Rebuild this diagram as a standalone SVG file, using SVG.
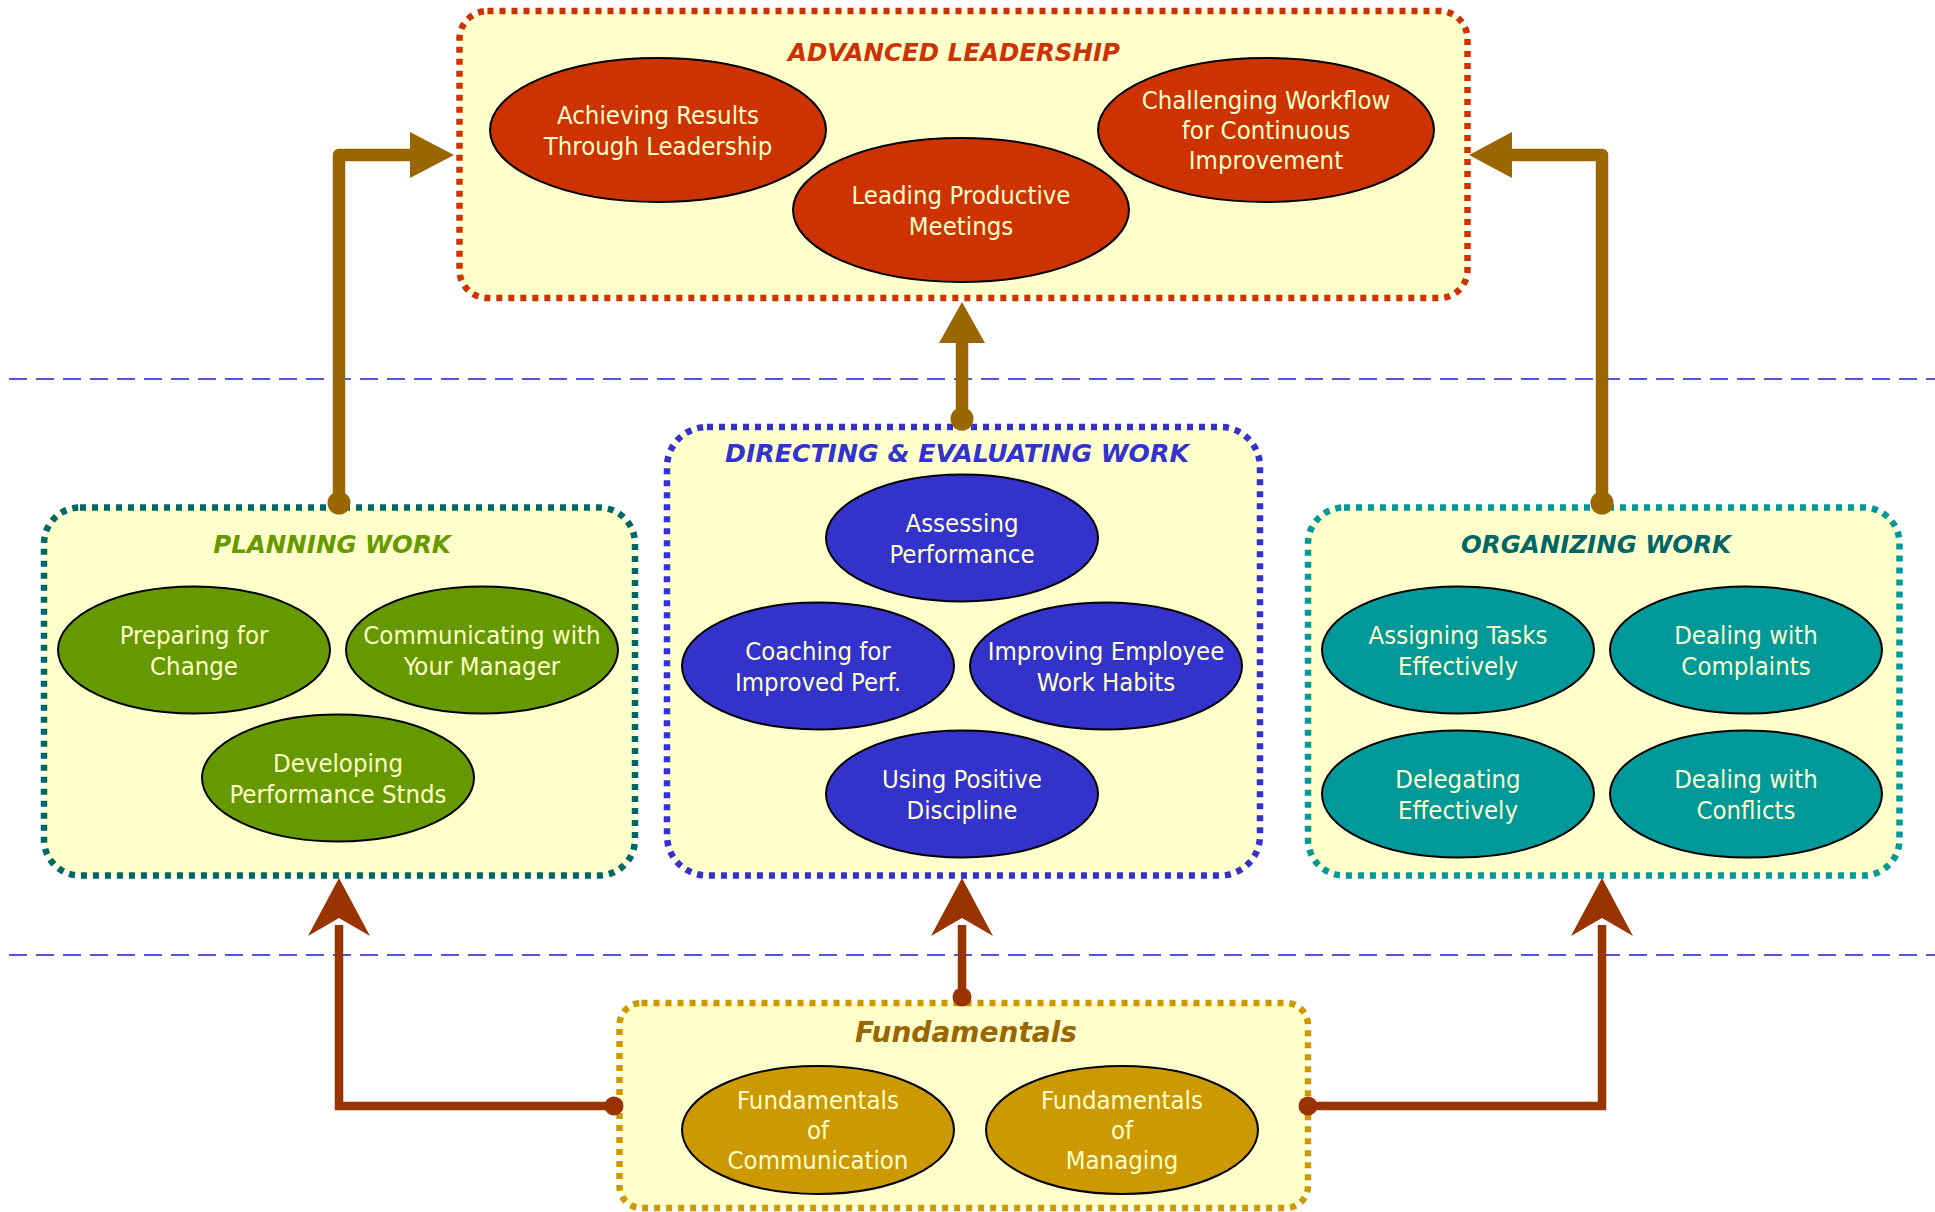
<svg xmlns="http://www.w3.org/2000/svg" width="1935" height="1212" viewBox="0 0 1935 1212">
  <style>
    .sep { stroke:#5555DD; stroke-width:2; stroke-dasharray:18 9; fill:none; }
    .box { fill:#FFFFCC; stroke-width:6.5; stroke-dasharray:6 6; }
    .ell { stroke:#000; stroke-width:2; }
    .lbl { font-family:"DejaVu Sans Condensed","DejaVu Sans",sans-serif; font-size:25.5px; fill:#FFFFCC; text-anchor:middle; }
    .ttl { font-family:"DejaVu Sans","Liberation Sans",sans-serif; font-weight:bold; font-style:italic; font-size:24.5px; text-anchor:middle; }
    .up { fill:none; stroke:#996600; stroke-width:12.5; stroke-linejoin:round; }
    .upDot, .upHead { fill:#996600; }
    .base { fill:none; stroke:#993300; stroke-width:8.5; stroke-linejoin:miter; }
    .baseDot, .baseHead { fill:#993300; }
  </style>

  <!-- level separators -->
  <g id="separators">
    <line class="sep" x1="9" y1="379" x2="1935" y2="379"/>
    <line class="sep" x1="9" y1="955" x2="1935" y2="955"/>
  </g>

  <!-- ADVANCED LEADERSHIP -->
  <g id="advanced-leadership">
    <rect class="box" x="459.5" y="11" width="1008" height="287" rx="28" stroke="#CC3300"/>
    <text class="ttl" x="954" y="61" fill="#CC3300">ADVANCED LEADERSHIP</text>
    <g id="achieving-results">
      <ellipse class="ell" cx="658" cy="130" rx="168" ry="72" fill="#CC3300"/>
      <text class="lbl" x="658" y="124">Achieving Results</text>
      <text class="lbl" x="658" y="155">Through Leadership</text>
    </g>
    <g id="challenging-workflow">
      <ellipse class="ell" cx="1266" cy="130" rx="168" ry="72" fill="#CC3300"/>
      <text class="lbl" x="1266" y="109">Challenging Workflow</text>
      <text class="lbl" x="1266" y="139">for Continuous</text>
      <text class="lbl" x="1266" y="169">Improvement</text>
    </g>
    <g id="leading-meetings">
      <ellipse class="ell" cx="961" cy="210" rx="168" ry="72" fill="#CC3300"/>
      <text class="lbl" x="961" y="204">Leading Productive</text>
      <text class="lbl" x="961" y="235">Meetings</text>
    </g>
  </g>

  <!-- PLANNING WORK -->
  <g id="planning-work">
    <rect class="box" x="44" y="507.5" width="591" height="368" rx="36" stroke="#006666"/>
    <text class="ttl" x="332" y="553" fill="#669900">PLANNING WORK</text>
    <g id="preparing-change">
      <ellipse class="ell" cx="194" cy="650" rx="136" ry="63.5" fill="#669900"/>
      <text class="lbl" x="194" y="644">Preparing for</text>
      <text class="lbl" x="194" y="675">Change</text>
    </g>
    <g id="communicating-manager">
      <ellipse class="ell" cx="482" cy="650" rx="136" ry="63.5" fill="#669900"/>
      <text class="lbl" x="482" y="644">Communicating with</text>
      <text class="lbl" x="482" y="675">Your Manager</text>
    </g>
    <g id="developing-standards">
      <ellipse class="ell" cx="338" cy="778" rx="136" ry="63.5" fill="#669900"/>
      <text class="lbl" x="338" y="772">Developing</text>
      <text class="lbl" x="338" y="803">Performance Stnds</text>
    </g>
  </g>

  <!-- DIRECTING & EVALUATING WORK -->
  <g id="directing-evaluating">
    <rect class="box" x="667" y="427" width="593" height="448.5" rx="40" stroke="#3333CC"/>
    <text class="ttl" x="957" y="462" fill="#3333CC" style="font-size:25.2px">DIRECTING &amp; EVALUATING WORK</text>
    <g id="assessing-performance">
      <ellipse class="ell" cx="962" cy="538" rx="136" ry="63.5" fill="#3333CC"/>
      <text class="lbl" x="962" y="532">Assessing</text>
      <text class="lbl" x="962" y="563">Performance</text>
    </g>
    <g id="coaching">
      <ellipse class="ell" cx="818" cy="666" rx="136" ry="63.5" fill="#3333CC"/>
      <text class="lbl" x="818" y="660">Coaching for</text>
      <text class="lbl" x="818" y="691">Improved Perf.</text>
    </g>
    <g id="improving-habits">
      <ellipse class="ell" cx="1106" cy="666" rx="136" ry="63.5" fill="#3333CC"/>
      <text class="lbl" x="1106" y="660">Improving Employee</text>
      <text class="lbl" x="1106" y="691">Work Habits</text>
    </g>
    <g id="positive-discipline">
      <ellipse class="ell" cx="962" cy="794" rx="136" ry="63.5" fill="#3333CC"/>
      <text class="lbl" x="962" y="788">Using Positive</text>
      <text class="lbl" x="962" y="819">Discipline</text>
    </g>
  </g>

  <!-- ORGANIZING WORK -->
  <g id="organizing-work">
    <rect class="box" x="1308" y="507.5" width="591.5" height="368" rx="36" stroke="#009999"/>
    <text class="ttl" x="1596" y="553" fill="#006666">ORGANIZING WORK</text>
    <g id="assigning-tasks">
      <ellipse class="ell" cx="1458" cy="650" rx="136" ry="63.5" fill="#009999"/>
      <text class="lbl" x="1458" y="644">Assigning Tasks</text>
      <text class="lbl" x="1458" y="675">Effectively</text>
    </g>
    <g id="dealing-complaints">
      <ellipse class="ell" cx="1746" cy="650" rx="136" ry="63.5" fill="#009999"/>
      <text class="lbl" x="1746" y="644">Dealing with</text>
      <text class="lbl" x="1746" y="675">Complaints</text>
    </g>
    <g id="delegating">
      <ellipse class="ell" cx="1458" cy="794" rx="136" ry="63.5" fill="#009999"/>
      <text class="lbl" x="1458" y="788">Delegating</text>
      <text class="lbl" x="1458" y="819">Effectively</text>
    </g>
    <g id="dealing-conflicts">
      <ellipse class="ell" cx="1746" cy="794" rx="136" ry="63.5" fill="#009999"/>
      <text class="lbl" x="1746" y="788">Dealing with</text>
      <text class="lbl" x="1746" y="819">Conflicts</text>
    </g>
  </g>

  <!-- Fundamentals -->
  <g id="fundamentals">
    <rect class="box" x="619.5" y="1003" width="688.5" height="205" rx="22" stroke="#CC9900"/>
    <text class="ttl" x="966" y="1042" fill="#996600" style="font-size:28px">Fundamentals</text>
    <g id="fundamentals-communication">
      <ellipse class="ell" cx="818" cy="1130" rx="136" ry="64" fill="#CC9900"/>
      <text class="lbl" x="818" y="1109">Fundamentals</text>
      <text class="lbl" x="818" y="1139">of</text>
      <text class="lbl" x="818" y="1169">Communication</text>
    </g>
    <g id="fundamentals-managing">
      <ellipse class="ell" cx="1122" cy="1130" rx="136" ry="64" fill="#CC9900"/>
      <text class="lbl" x="1122" y="1109">Fundamentals</text>
      <text class="lbl" x="1122" y="1139">of</text>
      <text class="lbl" x="1122" y="1169">Managing</text>
    </g>
  </g>

  <!-- connectors -->
  <g id="connectors">
    <!-- upper level: into ADVANCED LEADERSHIP -->
    <path class="up" d="M339,503 V155 H412"/>
    <polygon class="upHead" points="454,155 410,132 410,178"/>
    <circle class="upDot" cx="339" cy="503" r="11.5"/>

    <path class="up" d="M962,419 V340"/>
    <polygon class="upHead" points="962,302 939,343 985,343"/>
    <circle class="upDot" cx="962" cy="419" r="11.5"/>

    <path class="up" d="M1602,503 V155 H1510"/>
    <polygon class="upHead" points="1469,155 1512,132 1512,178"/>
    <circle class="upDot" cx="1602" cy="503" r="11.5"/>

    <!-- lower level: out of Fundamentals -->
    <path class="base" d="M614,1106 H339 V925"/>
    <polygon class="baseHead" points="339,878 370,936 339,918 308,936"/>
    <circle class="baseDot" cx="614" cy="1106" r="9.5"/>

    <path class="base" d="M962,997 V925"/>
    <polygon class="baseHead" points="962,878 993,936 962,918 931,936"/>
    <circle class="baseDot" cx="962" cy="997" r="9.5"/>

    <path class="base" d="M1308,1106 H1602 V925"/>
    <polygon class="baseHead" points="1602,878 1633,936 1602,918 1571,936"/>
    <circle class="baseDot" cx="1308" cy="1106" r="9.5"/>
  </g>
</svg>
